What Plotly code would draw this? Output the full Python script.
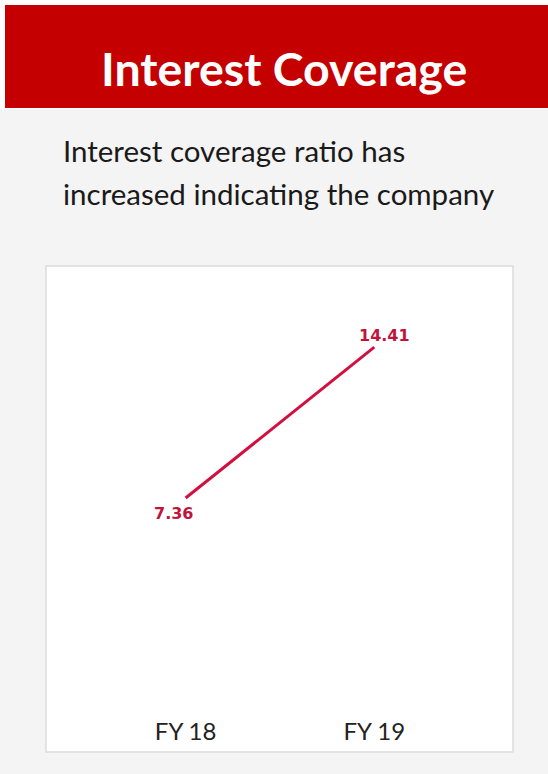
import plotly.graph_objects as go

# Interest coverage ratio by fiscal year
years = ["FY 18", "FY 19"]
coverage = [7.36, 14.41]

title_text = "Interest Coverage"
summary_lines = ["Interest coverage ratio has", "increased indicating the company"]

W, H = 548, 774
line_red = "#d2103f"
label_red = "#c0143c"

def py(px):
    """Convert a pixel offset from the top into paper y."""
    return 1 - px / H

def px_x(px):
    return px / W

fig = go.Figure()

xpos = list(range(len(years)))
fig.add_trace(go.Scatter(
    x=xpos, y=coverage, mode="lines",
    line=dict(color=line_red, width=3),
    hoverinfo="skip", showlegend=False,
))

# value labels next to each point
shifts = [(-12, -15), (10, 12)]
for xi, v, (dx, dy) in zip(xpos, coverage, shifts):
    fig.add_annotation(
        x=xi, y=v, xref="x", yref="y", text=f"{v:.2f}", showarrow=False,
        xshift=dx, yshift=dy,
        font=dict(family="DejaVu Sans", size=16, color=label_red, weight="bold"),
    )

shapes = [
    # header band
    dict(type="rect", xref="paper", yref="paper", x0=px_x(5), x1=1.0,
         y0=py(108), y1=py(5), fillcolor="#c40000", line=dict(width=0), layer="below"),
    # light page body
    dict(type="rect", xref="paper", yref="paper", x0=0, x1=1.0,
         y0=0, y1=py(109), fillcolor="#f4f4f4", line=dict(width=0), layer="below"),
    # chart card
    dict(type="rect", xref="paper", yref="paper", x0=px_x(46), x1=px_x(513),
         y0=py(752), y1=py(266), fillcolor="#ffffff",
         line=dict(color="#dcdcdc", width=1.5), layer="below"),
]

annotations = [
    dict(text=f"<b>{title_text}</b>", x=px_x(283.5), y=py(68), xref="paper", yref="paper",
         showarrow=False, xanchor="center", yanchor="middle",
         font=dict(family="Lato", size=46.5, color="#ffffff")),
]
for i, line in enumerate(summary_lines):
    annotations.append(dict(
        text=line, x=px_x(61), y=py(150 + 43 * i), xref="paper", yref="paper",
        showarrow=False, xanchor="left", yanchor="middle",
        font=dict(family="Lato", size=29.5, color="#1a1a1a"),
    ))

for a in annotations:
    fig.add_annotation(**a)

fig.update_layout(
    width=W, height=H,
    margin=dict(l=0, r=0, t=0, b=0),
    paper_bgcolor="#ffffff",
    plot_bgcolor="rgba(0,0,0,0)",
    shapes=shapes,
    xaxis=dict(
        domain=[px_x(47), px_x(512)],
        range=[-0.735, 1.73],
        tickmode="array", tickvals=xpos, ticktext=years,
        showgrid=False, zeroline=False, showline=False, ticks="",
        tickfont=dict(family="Lato", size=24, color="#222222"),
        fixedrange=True,
    ),
    yaxis=dict(
        domain=[py(715), py(265)],
        range=[-2.78, 18.25],
        visible=False, showgrid=False, zeroline=False,
        fixedrange=True,
    ),
)

fig.write_html("out.html")
